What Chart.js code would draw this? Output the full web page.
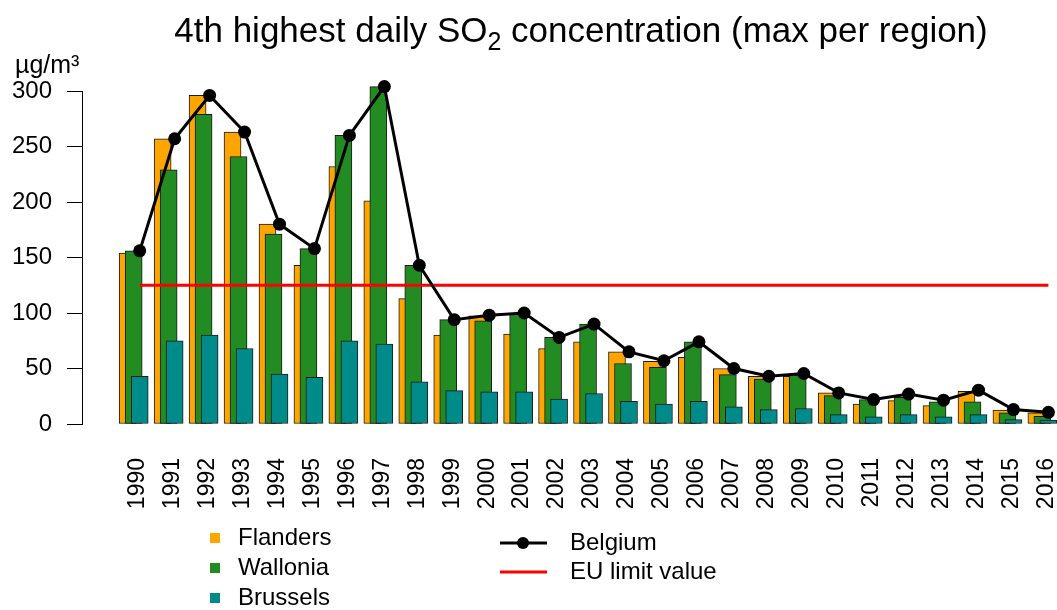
<!DOCTYPE html>
<html>
<head>
<meta charset="utf-8">
<script src="https://cdn.jsdelivr.net/npm/chart.js@4.4.1/dist/chart.umd.min.js"></script>
<style>
  html, body { margin: 0; padding: 0; background: #fff; }
  canvas { display: block; }
</style>
</head>
<body>
<canvas id="c" width="1057" height="610"></canvas>
<script>
// 4th highest daily SO2 concentration per region, µg/m³
const years = [1990, 1991, 1992, 1993, 1994, 1995, 1996, 1997, 1998, 1999,
               2000, 2001, 2002, 2003, 2004, 2005, 2006, 2007, 2008, 2009,
               2010, 2011, 2012, 2013, 2014, 2015, 2016];
const flanders = [154, 257, 296, 263, 180, 143, 232, 201, 113, 80,
                  97.5, 81, 68, 74, 65, 56.5, 60, 50, 43, 43,
                  28, 18, 21, 16.5, 29.5, 12.5, 10];
const wallonia = [156, 229, 279, 241, 171, 158, 260, 304, 143, 94,
                  93, 99, 78, 90, 54.5, 51, 74, 44.5, 40.5, 44,
                  25.5, 22, 24, 20, 20, 10, 7];
const brussels = [43, 75, 80, 68, 45, 42, 75, 72, 38, 30,
                  29, 29, 22.5, 27.5, 20.5, 18, 20.5, 15.5, 13, 14,
                  8.5, 6.5, 8.5, 6.5, 8.5, 4, 3.5];
const belgium = [156, 257, 296, 263, 180, 158, 260, 304, 143, 94,
                 98, 100, 78, 90, 65, 57, 74, 50, 43, 45.5,
                 28, 22, 27, 21.5, 30.5, 13, 10.5];
const euLimit = 125;
const yTicks = [0, 50, 100, 150, 200, 250, 300];

const FONT = '"Liberation Sans", Arial, Helvetica, sans-serif';
Chart.defaults.font.family = FONT;
Chart.defaults.color = '#000';

const COLORS = { flanders: '#FFA500', wallonia: '#228B22', brussels: '#008B8B' };

// x axis runs in "year index" units; bars inside a year are shifted sideways
const X_MIN = -1.479, X_MAX = 26.232;
const SHIFT = 0.172;

const at = (values, dx) => values.map((v, i) => ({ x: i + dx, y: v }));

const barStyle = {
  type: 'bar', grouped: false, barThickness: 17,
  borderWidth: 1, borderColor: '#1a1a1a', borderSkipped: false, clip: false
};

const overlay = {
  id: 'overlay',
  afterDraw(chart) {
    const ctx = chart.ctx;
    ctx.save();
    ctx.fillStyle = '#000';

    // title with subscript
    const big = `35px ${FONT}`, sub = `25px ${FONT}`;
    const p1 = '4th highest daily SO', p2 = '2', p3 = ' concentration (max per region)';
    ctx.font = big; const w1 = ctx.measureText(p1).width, w3 = ctx.measureText(p3).width;
    ctx.font = sub; const w2 = ctx.measureText(p2).width;
    let x = 581 - (w1 + w2 + w3) / 2;
    const base = 42;
    ctx.textBaseline = 'alphabetic'; ctx.textAlign = 'left';
    ctx.font = big; ctx.fillText(p1, x, base); x += w1;
    ctx.font = sub; ctx.fillText(p2, x, base + 8); x += w2;
    ctx.font = big; ctx.fillText(p3, x, base);

    // unit
    ctx.font = `25px ${FONT}`;
    ctx.fillText('µg/m³', 15, 73);

    // legend: regions
    ctx.font = `24px ${FONT}`;
    ctx.textBaseline = 'middle';
    const regions = [['Flanders', COLORS.flanders], ['Wallonia', COLORS.wallonia], ['Brussels', COLORS.brussels]];
    regions.forEach(([name, col], k) => {
      const cy = 538 + k * 30;
      ctx.fillStyle = col;
      ctx.fillRect(210, cy - 5, 10, 10);
      ctx.fillStyle = '#000';
      ctx.fillText(name, 238, cy);
    });

    // legend: lines
    ctx.strokeStyle = '#000'; ctx.lineWidth = 3;
    ctx.beginPath(); ctx.moveTo(500, 543); ctx.lineTo(547, 543); ctx.stroke();
    ctx.beginPath(); ctx.arc(523, 543, 6, 0, Math.PI * 2); ctx.fill();
    ctx.fillText('Belgium', 570, 543);
    ctx.strokeStyle = '#ff0000'; ctx.lineWidth = 3;
    ctx.beginPath(); ctx.moveTo(500, 572); ctx.lineTo(547, 572); ctx.stroke();
    ctx.fillText('EU limit value', 570, 572);
    ctx.restore();
  }
};

new Chart(document.getElementById('c'), {
  data: {
    datasets: [
      { ...barStyle, label: 'Flanders', data: at(flanders, -SHIFT), backgroundColor: COLORS.flanders, order: 6 },
      { ...barStyle, label: 'Wallonia', data: at(wallonia, 0), backgroundColor: COLORS.wallonia, order: 5 },
      { ...barStyle, label: 'Brussels', data: at(brussels, SHIFT), backgroundColor: COLORS.brussels, order: 4 },
      { type: 'line', label: 'EU limit value',
        data: [{ x: SHIFT, y: euLimit }, { x: years.length - 1 + SHIFT, y: euLimit }],
        borderColor: '#ff0000', borderWidth: 3, pointRadius: 0, order: 2 },
      { type: 'line', label: 'Belgium', data: at(belgium, SHIFT),
        borderColor: '#000', borderWidth: 3, pointRadius: 6.5, pointHoverRadius: 6.5,
        pointBackgroundColor: '#000', pointBorderWidth: 0, clip: false, order: 1 }
    ]
  },
  options: {
    responsive: false,
    animation: false,
    devicePixelRatio: 1,
    layout: { padding: { top: 91, right: 0, bottom: 0, left: 0 } },
    plugins: { legend: { display: false }, title: { display: false }, tooltip: { enabled: false } },
    scales: {
      x: {
        type: 'linear', min: X_MIN, max: X_MAX, offset: false,
        grid: { display: false, drawTicks: false, offset: false },
        border: { display: false },
        afterBuildTicks: s => { s.ticks = years.map((_, i) => ({ value: i })); },
        ticks: { autoSkip: false, minRotation: 90, maxRotation: 90, padding: 34, labelOffset: 4,
                 font: { size: 23 }, callback: (v, i) => String(years[i]) },
        afterFit: s => { s.height = 186; s.paddingLeft = 0; s.paddingRight = 0; }
      },
      y: {
        type: 'linear', min: 0, max: 300,
        afterBuildTicks: s => { s.ticks = yTicks.map(v => ({ value: v })); },
        grid: { display: true, drawOnChartArea: false, drawTicks: true, tickLength: 15, color: '#000', lineWidth: 1 },
        border: { display: true, color: '#000', width: 1 },
        ticks: { padding: 15, font: { size: 24 } },
        afterFit: s => { s.width = 82; s.paddingTop = 0; s.paddingBottom = 0; }
      }
    }
  },
  plugins: [overlay]
});
</script>
</body>
</html>
